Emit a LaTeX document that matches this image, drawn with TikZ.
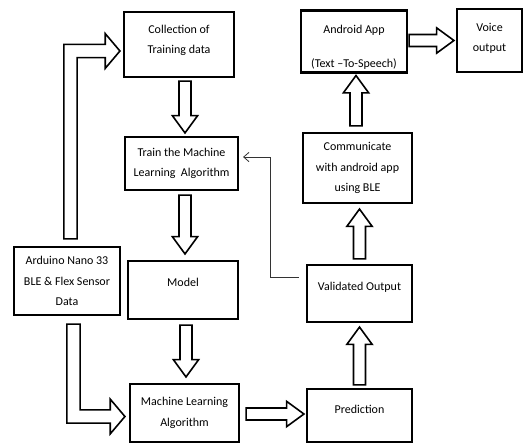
\documentclass[tikz,border=0pt]{standalone}
\usepackage{fontspec}
\setmainfont{Carlito}
\usetikzlibrary{calc,arrows.meta}

\newcommand{\fatarrow}[2]{%
  \draw[fat] let \p1=(#1), \p2=(#2), \n1={veclen(\x2-\x1,\y2-\y1)}, \n2={atan2(\y2-\y1,\x2-\x1)} in
    [shift={(\p1)},rotate=\n2]
    (0pt,4.5pt) -- ({\n1*1pt-13pt},4.5pt) -- ({\n1*1pt-13pt},9.5pt) -- ({\n1*1pt},0pt)
    -- ({\n1*1pt-13pt},-9.5pt) -- ({\n1*1pt-13pt},-4.5pt) -- (0pt,-4.5pt) -- cycle;}
\newcommand{\elbowarrow}[2]{%
  \draw[fat] let \p1=(#1), \p2=(#2), \n1={sign(\y2-\y1)} in
    ({\x1-5pt},\y1) -- ({\x1-5pt},{\y2+5pt*\n1}) -- ({\x2-11pt},{\y2+5pt*\n1})
    -- ({\x2-11pt},{\y2+13pt*\n1}) -- (\p2) -- ({\x2-11pt},{\y2-13pt*\n1})
    -- ({\x2-11pt},{\y2-5pt*\n1}) -- ({\x1+5pt},{\y2-5pt*\n1}) -- ({\x1+5pt},\y1) -- cycle;}

\begin{document}
\begin{tikzpicture}[x=0.75pt,y=-0.75pt,
  box/.style={draw,line width=1.6pt,align=center,inner sep=2pt,font=\fontsize{9}{15.5}\selectfont},
  fat/.style={draw,line width=1.2pt,fill=white,line join=miter},
  back/.style={line width=0.6pt,draw=black!80,-{Straight Barb[length=4pt,width=7pt]}}]
\useasboundingbox (0,0) rectangle (523,443);

\node[box,minimum width=82.5pt,minimum height=48.75pt,text depth=8pt] (coll) at (179,44.5) {Collection of\\Training data};
\node[box,minimum width=84.75pt,minimum height=39.75pt] (train) at (181.5,163.5) {Train the Machine\\Learning \ Algorithm};
\node[box,minimum width=82.5pt,minimum height=43.5pt,text depth=12pt] (model) at (183,290) {Model};
\node[box,minimum width=81.75pt,minimum height=43.5pt] (mla) at (184.5,413) {Machine Learning\\Algorithm};
\node[box,minimum width=79.5pt,minimum height=51pt] (ard) at (67,281) {Arduino Nano 33\\BLE \& Flex Sensor\\Data};
\node[box,minimum width=79.5pt,minimum height=45.75pt] (app) at (354,41.5) {\rule{0pt}{15.5pt}Android App\\[10pt](Text --To-Speech)};
\node[box,minimum width=48.75pt,minimum height=47.25pt,text depth=4.5pt] (voice) at (489.5,40.5) {Voice\\output};
\node[box,minimum width=81.75pt,minimum height=52.5pt] (comm) at (357.5,168) {Communicate\\with android app\\using BLE};
\node[box,minimum width=78.75pt,minimum height=42.75pt,text depth=11.5pt] (valid) at (359.5,293.5) {Validated Output};
\node[box,minimum width=78.75pt,minimum height=39.75pt,text depth=9pt] (pred) at (359.5,415.5) {Prediction};

\fatarrow{$(coll.south)+(6,3)$}{$(train.north)+(3.5,-3)$}
\fatarrow{$(train.south)+(3.5,4)$}{$(model.north)+(2,-6)$}
\fatarrow{$(model.south)+(3,5)$}{$(mla.north)+(1.5,-6)$}
\fatarrow{$(mla.east)+(6,1)$}{$(pred.west)+(-2,-1.5)$}
\fatarrow{$(pred.north)+(0,-3)$}{$(valid.south)+(0,4)$}
\fatarrow{$(valid.north)+(0,-5)$}{$(comm.south)+(2,5)$}
\fatarrow{$(comm.north)+(-1.5,-6)$}{$(app.south)+(2,2)$}
\fatarrow{$(app.east)+(1,-1)$}{$(voice.west)+(-2,0)$}
\elbowarrow{$(ard.north)+(3.5,-7)$}{$(coll.west)+(-3,6.5)$}
\elbowarrow{$(ard.south)+(6.5,8)$}{$(mla.west)+(-4,3.5)$}

\draw[back] ($(valid.west)+(-7,-16.5)$) -- ++(-29,0) |- ($(train.east)+(4,-6.5)$);
\end{tikzpicture}
\end{document}
